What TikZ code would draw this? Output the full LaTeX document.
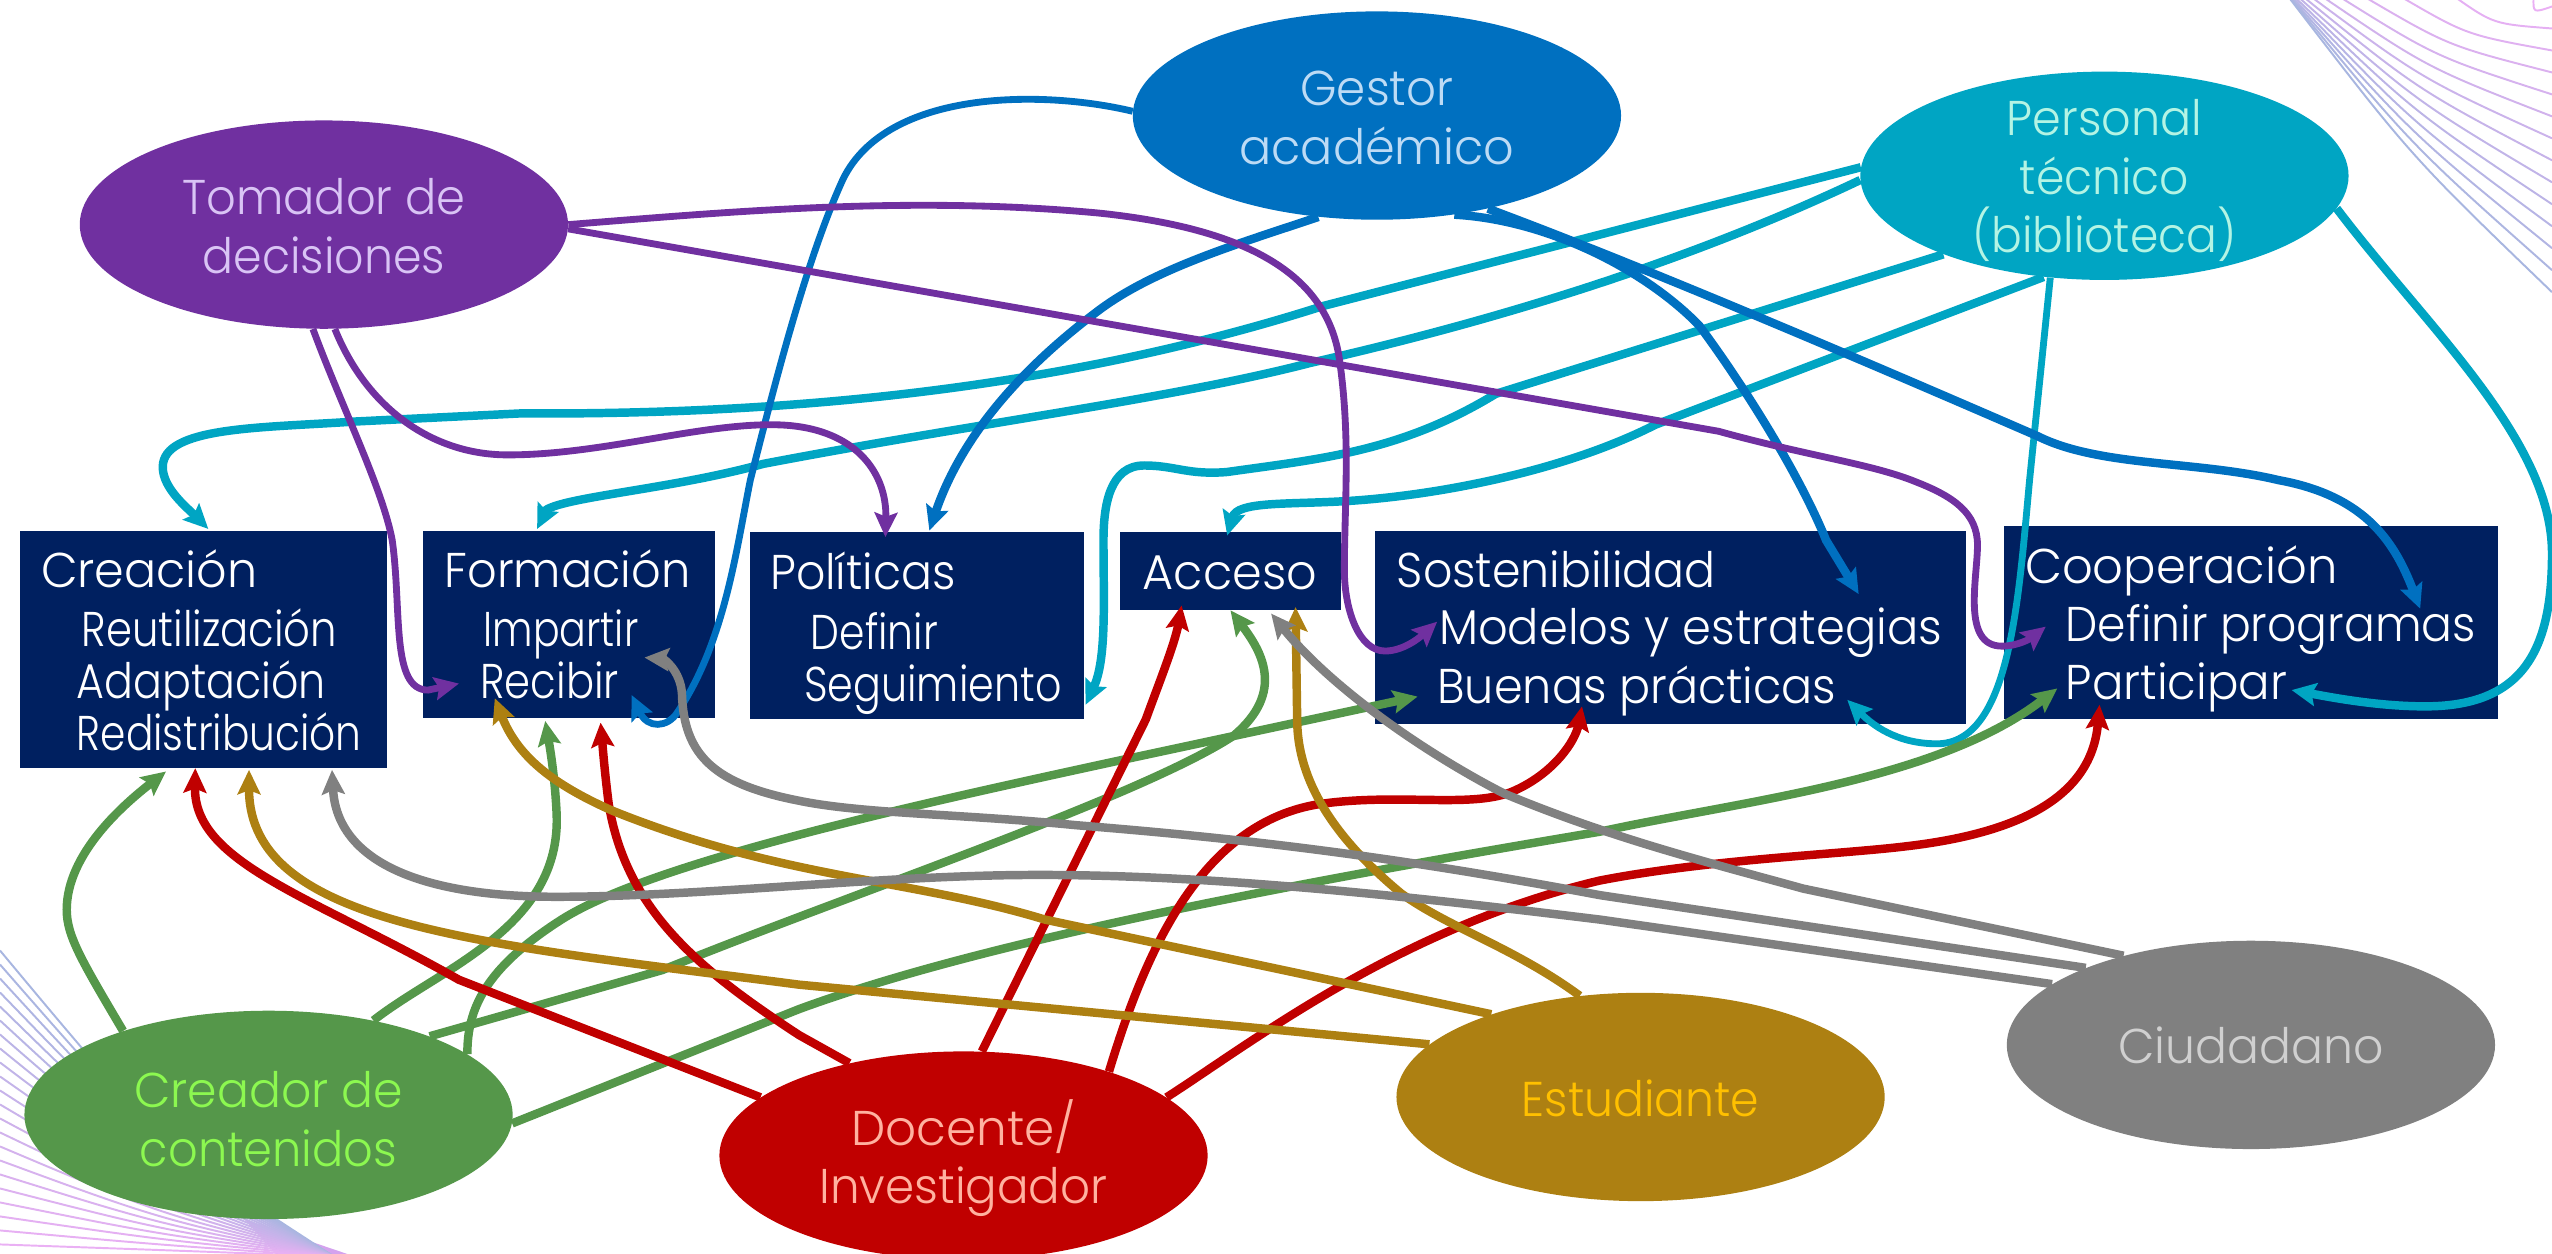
\documentclass[tikz,border=0pt]{standalone}
\usepackage{fontspec}
\usepackage{graphicx}
\setmainfont{Poppins}[UprightFont=* Light]
\usetikzlibrary{shapes.geometric,arrows.meta}
\definecolor{navy}{HTML}{002060}
\definecolor{cpur}{HTML}{7030A0}
\definecolor{cblu}{HTML}{0070C0}
\definecolor{ctea}{HTML}{00A5C3}
\definecolor{cgre}{HTML}{55974A}
\definecolor{cred}{HTML}{C00000}
\definecolor{cgol}{HTML}{AD8012}
\definecolor{cgry}{HTML}{808080}
\definecolor{fanpink}{HTML}{EAB0F4}
\definecolor{fanblue}{HTML}{A8B6E0}
\definecolor{fanband}{HTML}{D4A2EE}
\newcommand\fitw[2]{\resizebox{#1pt}{\height}{#2}}
\tikzset{
  x=1pt,y=-1pt,
  oval/.style={ellipse,minimum width=300pt,minimum height=128pt,inner sep=0pt,align=center,font=\fontsize{30}{36}\selectfont},
  ovtext/.style={inner sep=0pt,align=center,font=\fontsize{30}{36}\selectfont},
  area/.style={fill=navy,draw=none},
  lab/.style={anchor=base west,inner sep=0pt,text=white,font=\fontsize{30}{36}\selectfont},
  link/.style={line width=5.2pt,-{Stealth[length=15pt,width=14pt,inset=2.5pt]}},
  thin link/.style={link,line width=4.2pt},
}
\begin{document}
\begin{tikzpicture}
\useasboundingbox (0,0) rectangle (1568,770);
\begin{scope}
\clip (0,0) rectangle (1568,770);
\foreach \k in {0,...,13}{
  \pgfmathsetmacro\ye{4+13.5*\k}
  \pgfmathsetmacro\sx{1405+170*exp(-\ye/35)}
  \pgfmathsetmacro\p{100*\k/13}
  \colorlet{fanc}{fanblue!\p!fanpink}
  \draw[fanc,line width=1.2pt] (\sx,-2) .. controls ({(\sx+1568)/2-6},{\ye/2+6}) .. (1568,\ye);
}
\fill[fanband] (150,749) -- (215,771) -- (170,771) -- cycle;
\foreach \k in {0,...,21}{
  \pgfmathsetmacro\yb{584+8.6*\k}
  \pgfmathsetmacro\cy{\yb+(770-\yb)/186*120}
  \pgfmathsetmacro\p{100*(1-\k/21)}
  \colorlet{fanc}{fanblue!\p!fanpink}
  \draw[fanc,line width=1.2pt] (0,\yb) .. controls (100,\cy) .. (205,772);
}
\end{scope}
% boxes
\fill[area] (12,326) rectangle (238,472);
\fill[area] (260,326) rectangle (439,441);
\fill[area] (461,327) rectangle (666,442);
\fill[area] (688,327) rectangle (824,375);
\fill[area] (845,326) rectangle (1208,445);
\fill[area] (1231,323) rectangle (1535,442);
% box labels
\node[lab] (crea) at (25,361) {\fitw{133}{Creación}};
\node[lab] (reut) at (50,397) {\fitw{157}{Reutilización}};
\node[lab] (adap) at (47,429) {\fitw{153}{Adaptación}};
\node[lab] (redi) at (47,461) {\fitw{175}{Redistribución}};
\node[lab] (form) at (273,361) {\fitw{151}{Formación}};
\node[lab] (impa) at (297,397) {\fitw{95}{Impartir}};
\node[lab] (reci) at (295,429) {\fitw{85}{Recibir}};
\node[lab] (poli) at (473,362.5) {\fitw{114}{Políticas}};
\node[lab] (defi) at (498,399) {\fitw{78}{Definir}};
\node[lab] (segu) at (494,431) {\fitw{158}{Seguimiento}};
\node[lab] (acce) at (702,362.5) {\fitw{107}{Acceso}};
\node[lab] (sost) at (858,361) {\fitw{196}{Sostenibilidad}};
\node[lab] (mode) at (884,396) {\fitw{309}{Modelos y estrategias}};
\node[lab] (buen) at (883,432) {\fitw{245}{Buenas prácticas}};
\node[lab] (coop) at (1244,358.5) {\fitw{192}{Cooperación}};
\node[lab] (dpro) at (1269,394) {\fitw{252}{Definir programas}};
\node[lab] (part) at (1269,430) {\fitw{136}{Participar}};
% ovals
\node[oval,fill=cpur] (tom) at (199,138) {};
\node[oval,fill=cblu] (ges) at (846,71) {};
\node[oval,fill=ctea] (per) at (1293,108) {};
\node[oval,fill=cgre] (cre) at (165,685) {};
\node[oval,fill=cred] (doc) at (592,710) {};
\node[oval,fill=cgol] (est) at (1008,674) {};
\node[oval,fill=cgry] (ciu) at (1383,642) {};
\node[ovtext,text={rgb,255:red,217;green,196;blue,245},yshift=-1pt] (tomT) at (tom) {\fitw{174}{Tomador de}\\\fitw{149}{decisiones}};
\node[ovtext,text={rgb,255:red,189;green,219;blue,245},yshift=-1.5pt] (gesT) at (ges) {\fitw{94}{Gestor}\\\fitw{169}{académico}};
\node[ovtext,text={rgb,255:red,180;green,244;blue,228},yshift=-3pt] (perT) at (per) {\fitw{120}{Personal}\\\fitw{104}{técnico}\\\fitw{162}{(biblioteca)}};
\node[ovtext,text={rgb,255:red,140;green,248;blue,80},yshift=-2.5pt] (creT) at (cre) {\fitw{165}{Creador de}\\\fitw{158}{contenidos}};
\node[ovtext,text={rgb,255:red,255;green,178;blue,160},yshift=-1.5pt] (docT) at (doc) {\fitw{138}{Docente/}\\\fitw{177}{Investigador}};
\node[ovtext,text={rgb,255:red,255;green,192;blue,0},yshift=-1pt] (estT) at (est) {\fitw{146}{Estudiante}};
\node[ovtext,text={rgb,255:red,208;green,208;blue,208}] (ciuT) at (ciu) {\fitw{163}{Ciudadano}};
% tips
\coordinate (tCreaT) at (128,325);
\coordinate (tFormT) at (330,325);
\coordinate (tSegu) at (667,433);
\coordinate (tAccT) at (754,329);
\coordinate (tBuenT) at (1135,430);
\coordinate (tPartT) at (1408,424);
\coordinate (tReciB) at (388,427);
\coordinate (tPoliB) at (571,326);
\coordinate (tModeB) at (1142,365);
\coordinate (tDproB) at (1487,374);
\coordinate (tReciP) at (282,420);
\coordinate (tPoliP) at (544,330);
\coordinate (tModeP) at (883,382);
\coordinate (tDproP) at (1257,385);
\coordinate (tCreaG) at (102,474);
\coordinate (tFormG) at (335,443);
\coordinate (tAccG) at (756,375);
\coordinate (tBuenG) at (871,428);
\coordinate (tPartG) at (1264,423);
\coordinate (tCreaR) at (120,472);
\coordinate (tFormR) at (369,444);
\coordinate (tAccR) at (726,372);
\coordinate (tBuenR) at (972,434);
\coordinate (tPartR) at (1290,433);
\coordinate (tCreaE) at (153,473);
\coordinate (tFormE) at (304,429);
\coordinate (tAccE) at (796,373);
\coordinate (tCreaC) at (204,473);
\coordinate (tFormC) at (396,404);
\coordinate (tAccC) at (781,377);
% teal
\draw[link,ctea] (per.178) -- (813,188) .. controls (650,240) and (480,255) .. (320,254) -- (218,259) .. controls (160,263) and (100,262) .. (100,287) .. controls (100,300) and (115,312) .. (tCreaT);
\draw[link,ctea] (per.181) .. controls (1060,150) and (950,190) .. (805,223) .. controls (720,245) and (600,260) .. (469,285) .. controls (415,300) and (350,305) .. (336,313) -- (tFormT);
\draw[link,ctea] (per.206) -- (919,242) .. controls (860,278) and (810,282) .. (754,290) .. controls (730,292) and (722,286) .. (703,286) .. controls (682,286) and (678,310) .. (678,332) .. controls (678,370) and (680,405) .. (tSegu);
\draw[link,ctea] (per.-121) -- (1017,261) .. controls (960,290) and (880,305) .. (825,308) .. controls (790,310) and (760,308) .. (tAccT);
\draw[thin link,ctea] (per.-118) -- (1247,295) .. controls (1240,370) and (1235,457) .. (1190,457) .. controls (1165,457) and (1150,445) .. (tBuenT);
\draw[link,ctea] (per.-8) .. controls (1490,200) and (1568,270) .. (1568,340) .. controls (1568,400) and (1550,434) .. (1490,434) .. controls (1460,434) and (1430,428) .. (tPartT);
% blue
\draw[thin link,cblu] (ges.179) .. controls (640,55) and (545,55) .. (518,110) .. controls (495,160) and (475,240) .. (461,295) .. controls (452,340) and (445,395) .. (416,438) .. controls (410,447) and (398,448) .. (tReciB);
\draw[link,cblu] (ges.-120) .. controls (760,150) and (710,165) .. (676,190) .. controls (625,228) and (590,270) .. (tPoliB);
\draw[link,cblu] (ges.-52) .. controls (950,135) and (1010,165) .. (1044,200) .. controls (1070,235) and (1105,290) .. (1122,332) -- (tModeB);
\draw[link,cblu] (ges.-40) .. controls (1000,160) and (1130,215) .. (1252,268) .. controls (1290,287) and (1350,283) .. (1400,295) .. controls (1455,305) and (1472,335) .. (tDproB);
% purple
\draw[thin link,cpur] (tom.-96) .. controls (210,250) and (235,300) .. (241,332) .. controls (247,375) and (240,424) .. (263,424) -- (tReciP);
\draw[thin link,cpur] (tom.-84) .. controls (225,250) and (265,279.5) .. (312,279.5) .. controls (370,279.5) and (430,260) .. (477,261) .. controls (525,262) and (545,290) .. (tPoliP);
\draw[thin link,cpur] (tom.0) .. controls (450,130) and (560,120) .. (676,131) .. controls (760,140) and (815,165) .. (823,221) .. controls (830,270) and (826,310) .. (826,350) .. controls (826,375) and (835,400) .. (851,400) .. controls (862,400) and (872,392) .. (tModeP);
\draw[thin link,cpur] (tom.-1) -- (1056,265) .. controls (1110,280) and (1150,285) .. (1177,296) .. controls (1200,305) and (1215,315) .. (1215,335) .. controls (1215,355) and (1205,397) .. (1230,397) .. controls (1240,397) and (1248,392) .. (tDproP);
% green
\draw[link,cgre] (cre.150) .. controls (50,590) and (41,575) .. (41,559) .. controls (41,525) and (75,495) .. (tCreaG);
\draw[link,cgre] (cre.42) .. controls (270,595) and (345,570) .. (342,500) .. controls (341,478) and (338,460) .. (tFormG);
\draw[link,cgre] (cre.26) -- (407,596) .. controls (520,550) and (700,490) .. (758,452) .. controls (790,425) and (775,400) .. (tAccG);
\draw[link,cgre] (cre.17) .. controls (287,620) and (298,595) .. (345,565) .. controls (400,530) and (560,495) .. (689,467) -- (tBuenG);
\draw[link,cgre] (cre.-2) -- (491,620) .. controls (600,580) and (780,545) .. (983,511) .. controls (1070,492) and (1190,480) .. (tPartG);
% red
\draw[link,cred] (doc.164) -- (282,602) .. controls (190,550) and (119,530) .. (tCreaR);
\draw[link,cred] (doc.141) -- (491,636) .. controls (430,596) and (385,560) .. (374,494) .. controls (371,470) and (370,455) .. (tFormR);
\draw[link,cred] (doc.80) -- (704,442) .. controls (712,420) and (722,395) .. (tAccR);
\draw[link,cred] (doc.30) .. controls (705,580) and (740,505) .. (811,494) .. controls (860,487) and (905,497) .. (930,486) .. controls (955,475) and (968,455) .. (tBuenR);
\draw[link,cred] (doc.16) .. controls (770,640) and (860,570) .. (983,541) .. controls (1050,528) and (1130,525) .. (1171,520) .. controls (1240,512) and (1285,490) .. (tPartR);
% gold
\draw[link,cgol] (est.166) -- (491,605) .. controls (300,580) and (153,570) .. (tCreaE);
\draw[link,cgol] (est.151) -- (642,565) .. controls (560,540) and (480,540) .. (376,498) .. controls (340,482) and (318,465) .. (tFormE);
\draw[link,cgol] (est.121) .. controls (930,582) and (890,570) .. (861,549) .. controls (820,515) and (797,480) .. (797,442) -- (tAccE);
% grey
\draw[link,cgry] (ciu.163) -- (983,565) .. controls (860,550) and (740,537) .. (632,537.6) .. controls (540,538) and (430,551) .. (342,551) .. controls (260,551) and (207,530) .. (tCreaC);
\draw[link,cgry] (ciu.155) -- (983,550) .. controls (850,525) and (760,515) .. (661,507) .. controls (590,500) and (530,500) .. (491,492) .. controls (440,482) and (420,465) .. (419,426) .. controls (418,412) and (408,405) .. (tFormC);
\draw[link,cgry] (ciu.145) -- (1108,546) .. controls (1050,530) and (990,515) .. (924,487.5) .. controls (880,465) and (820,425) .. (tAccC);
\end{tikzpicture}
\end{document}
